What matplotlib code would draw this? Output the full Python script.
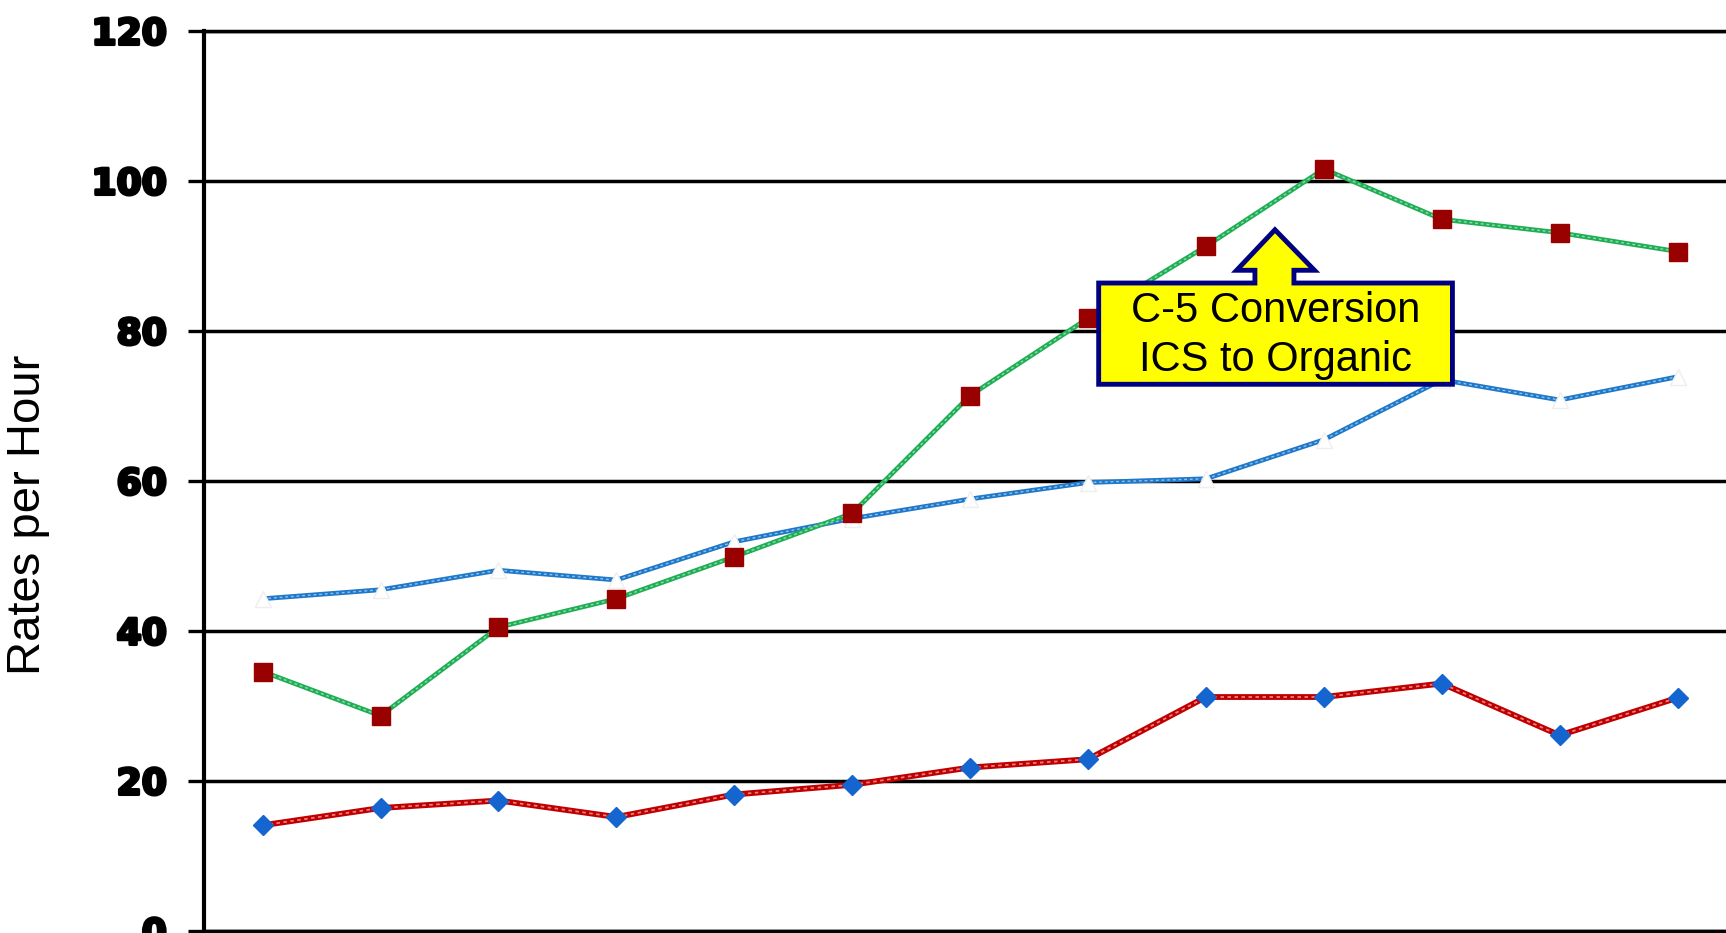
import numpy as np
import matplotlib.pyplot as plt
import matplotlib.patheffects as pe
from matplotlib.patches import Polygon

# datos
periodos = np.arange(13)
tasa_organico = [34.6, 28.7, 40.5, 44.3, 49.9, 55.7, 71.4, 81.7, 91.3, 101.6, 94.9, 93.1, 90.6]
tasa_total = [44.3, 45.5, 48.1, 46.8, 51.9, 55.0, 57.6, 59.8, 60.3, 65.5, 73.5, 70.8, 73.9]
tasa_ics = [14.1, 16.4, 17.4, 15.2, 18.2, 19.5, 21.8, 22.9, 31.2, 31.2, 33.0, 26.1, 31.1]
y_ticks = [0, 20, 40, 60, 80, 100, 120]
nota = "C-5 Conversion\nICS to Organic"

fig = plt.figure(figsize=(17.26, 9.33), dpi=100)
ax = fig.add_axes([0.118, 0.00214, 0.882, 0.9646])


def linea(y, color, claro, lw, **kw):
    ax.plot(periodos, y, color=color, lw=lw, zorder=3, solid_joinstyle="round", **kw)
    # textura clara encima de la linea
    ax.plot(periodos, y, color=claro, lw=lw * 0.3, dashes=(2, 2), zorder=3.1)


linea(tasa_ics, "#c00000", "#f08080", 4.2)
ax.plot(periodos, tasa_ics, ls="none", marker="D", ms=10, color="#1565d0", zorder=4)

linea(tasa_total, "#1f78c8", "#8cc0ee", 3.4)
ax.plot(periodos, tasa_total, ls="none", marker="^", ms=11, mfc="white", mec="#eeeeee", zorder=4)

linea(tasa_organico, "#1fae55", "#8fdcaa", 3.4)
ax.plot(periodos, tasa_organico, ls="none", marker="s", ms=13, color="#990000", zorder=4)

# caja con flecha hacia arriba
flecha = [(7.09, 72.9), (10.09, 72.9), (10.09, 86.4), (8.746, 86.4), (8.746, 88.1),
          (8.92, 88.1), (8.585, 93.5), (8.26, 88.1), (8.415, 88.1), (8.415, 86.4),
          (7.09, 86.4)]
ax.add_patch(Polygon(flecha, closed=True, fc="#ffff00", ec="#000080", lw=3.5, zorder=5))
ax.text(8.59, 79.4, nota, ha="center", va="center", fontsize=30, linespacing=1.3,
        family="Liberation Sans", zorder=6)

ax.set_xlim(-0.5, 12.41)
ax.set_ylim(0, 120)
ax.set_xticks([])
ax.set_yticks(y_ticks)
ax.set_yticklabels([str(v) for v in y_ticks], fontsize=26, fontweight="bold", family="DejaVu Sans")
for t in ax.get_yticklabels():
    t.set_path_effects([pe.withStroke(linewidth=2.2, foreground="black")])
ax.tick_params(axis="y", direction="out", length=11.5, width=2.4, pad=15, color="black")
ax.grid(axis="y", color="black", lw=2.5)
ax.set_axisbelow(True)

ax.spines["right"].set_visible(False)
ax.spines["left"].set_linewidth(3.0)
ax.spines["top"].set_linewidth(2.5)
ax.spines["bottom"].set_linewidth(2.5)

ax.set_ylabel("Rates per Hour", fontsize=34, family="Liberation Sans")
ax.yaxis.set_label_coords(-0.101, 0.463)

plt.savefig("out.png", dpi=100)
